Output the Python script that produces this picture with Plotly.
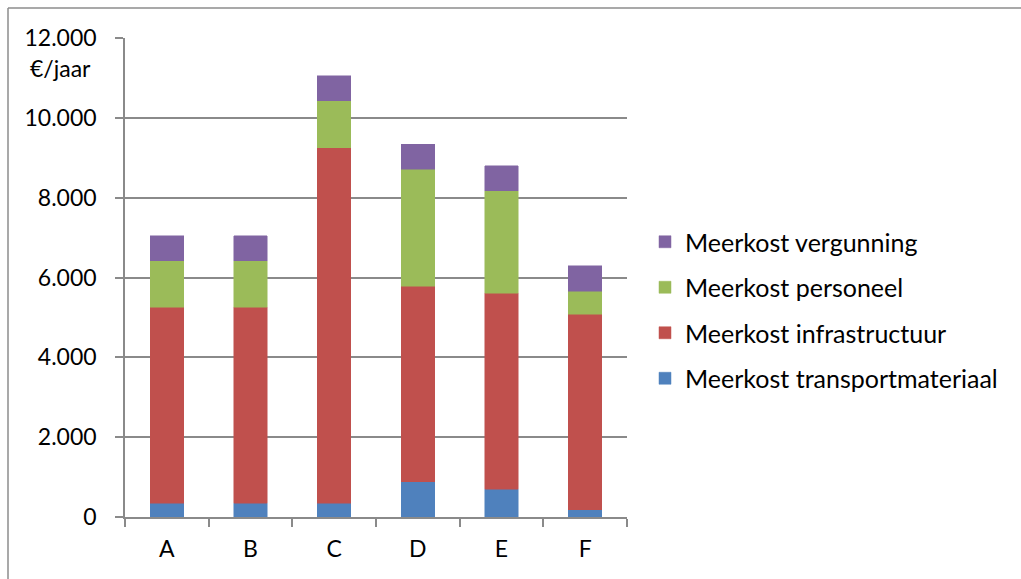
import plotly.graph_objects as go

# Stacked extra cost per scenario, in euro per year
categories = ["A", "B", "C", "D", "E", "F"]
transportmateriaal = [350, 350, 350, 880, 700, 180]
infrastructuur = [4900, 4900, 8900, 4900, 4900, 4900]
personeel = [1175, 1175, 1175, 2930, 2575, 580]
vergunning = [625, 625, 625, 625, 625, 640]

series = [
    ("Meerkost transportmateriaal", transportmateriaal, "#4F81BD", 4),
    ("Meerkost infrastructuur", infrastructuur, "#C0504D", 3),
    ("Meerkost personeel", personeel, "#9BBB59", 2),
    ("Meerkost vergunning", vergunning, "#8064A2", 1),
]

FONT = "Lato, 'Open Sans', sans-serif"
GRID = "#8A8A8A"

# Figure geometry in pixels
W, H = 1021, 579
L, R, T, B = 125, 394, 38, 62
PW, PH = W - L - R, H - T - B


def px_x(px):
    return (px - L) / PW


def px_y(py):
    return (H - B - py) / PH


fig = go.Figure()
for name, vals, color, rank in series:
    fig.add_trace(go.Bar(
        x=categories, y=vals, name=name,
        marker=dict(color=color, line=dict(color=color, width=0.5)),
        legendgroup=name, legendrank=rank,
    ))

fig.update_layout(
    width=W, height=H,
    margin=dict(l=L, r=R, t=T, b=B),
    barmode="stack", bargap=0.6,
    paper_bgcolor="white", plot_bgcolor="white",
    font=dict(family=FONT, size=23, color="#000000"),
    showlegend=True,
    legend=dict(
        x=px_x(645), xanchor="left",
        y=px_y(310), yanchor="middle",
        font=dict(size=25, family=FONT),
        tracegroupgap=10,
        traceorder="grouped",
        bgcolor="rgba(0,0,0,0)",
    ),
    xaxis=dict(
        type="category",
        showline=True, linecolor=GRID, linewidth=1.5,
        ticks="outside", ticklen=8, tickcolor=GRID, tickwidth=1.5,
        tickson="boundaries",
        ticklabelstandoff=11,
        showgrid=False,
        tickfont=dict(size=23, family=FONT),
    ),
    yaxis=dict(
        range=[0, 12000],
        tickvals=[0, 2000, 4000, 6000, 8000, 10000, 12000],
        ticktext=["0", "2.000", "4.000", "6.000", "8.000", "10.000", "12.000"],
        showline=True, linecolor=GRID, linewidth=1.5,
        ticks="outside", ticklen=8, tickcolor=GRID, tickwidth=1.5,
        ticklabelstandoff=14,
        showgrid=True, gridcolor=GRID, gridwidth=1.5,
        zeroline=False,
        tickfont=dict(size=23, family=FONT),
    ),
    annotations=[dict(
        text="€/jaar", xref="paper", yref="paper",
        x=px_x(93), y=px_y(68), xanchor="right", yanchor="middle",
        showarrow=False, font=dict(size=23, family=FONT),
    )],
    shapes=[
        # outer frame: top and left edges
        dict(type="line", xref="paper", yref="paper",
             x0=px_x(8), x1=px_x(W + 5), y0=px_y(8), y1=px_y(8),
             line=dict(color="#8C8C8C", width=1.5)),
        dict(type="line", xref="paper", yref="paper",
             x0=px_x(8), x1=px_x(8), y0=px_y(8), y1=px_y(H + 5),
             line=dict(color="#8C8C8C", width=1.5)),
    ],
)

fig.write_html("out.html")
